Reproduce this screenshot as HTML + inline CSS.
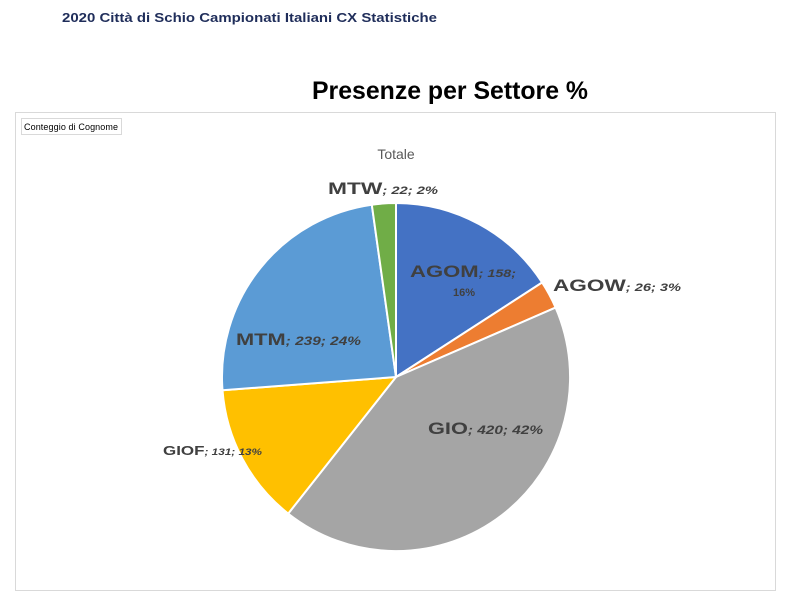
<!DOCTYPE html>
<html><head><meta charset="utf-8"><style>
body{margin:0;width:800px;height:610px;background:#fff;overflow:hidden;font-family:"Liberation Sans",sans-serif}
</style></head><body>
<svg width="800" height="610" xmlns="http://www.w3.org/2000/svg" font-family="Liberation Sans, sans-serif">
<text x="62" y="22" font-size="13" font-weight="bold" fill="#1f2d5a" textLength="375" lengthAdjust="spacingAndGlyphs">2020 Città di Schio Campionati Italiani CX Statistiche</text>
<text x="312" y="99" font-size="25" font-weight="bold" fill="#000" textLength="276" lengthAdjust="spacingAndGlyphs">Presenze per Settore  %</text>
<rect x="15.5" y="112.5" width="760" height="478" fill="#fff" stroke="#d9d9d9"/>
<rect x="21.5" y="118.5" width="100" height="16" fill="#fff" stroke="#d9d9d9"/>
<text x="24" y="130" font-size="9" fill="#000" textLength="94">Conteggio di Cognome</text>
<text x="396" y="159" font-size="14" fill="#595959" text-anchor="middle">Totale</text>
<g stroke="#fff" stroke-width="2" stroke-linejoin="round">
<path d="M396,377 L396,203 A174,174 0 0 1 542.1,282.5 Z" fill="#4472c4"/>
<path d="M396,377 L542.1,282.5 A174,174 0 0 1 555.6,307.6 Z" fill="#ed7d31"/>
<path d="M396,377 L555.6,307.6 A174,174 0 0 1 288.2,513.6 Z" fill="#a5a5a5"/>
<path d="M396,377 L288.2,513.6 A174,174 0 0 1 222.5,390.3 Z" fill="#ffc000"/>
<path d="M396,377 L222.5,390.3 A174,174 0 0 1 371.8,204.7 Z" fill="#5b9bd5"/>
<path d="M396,377 L371.8,204.7 A174,174 0 0 1 396,203 Z" fill="#70ad47"/>
</g>
<g font-weight="bold" fill="#404040">
<text x="410" y="277" font-size="17" textLength="106" lengthAdjust="spacingAndGlyphs">AGOM<tspan font-size="11" font-style="italic">; 158;</tspan></text>
<text x="464" y="296" font-size="11" text-anchor="middle">16%</text>
<text x="553" y="291" font-size="17" textLength="128" lengthAdjust="spacingAndGlyphs">AGOW<tspan font-size="11" font-style="italic">; 26; 3%</tspan></text>
<text x="428" y="434" font-size="17" textLength="115" lengthAdjust="spacingAndGlyphs">GIO<tspan font-size="12" font-style="italic">; 420; 42%</tspan></text>
<text x="163" y="455" font-size="13" textLength="99" lengthAdjust="spacingAndGlyphs">GIOF<tspan font-size="9" font-style="italic">; 131; 13%</tspan></text>
<text x="236" y="345" font-size="17" textLength="125" lengthAdjust="spacingAndGlyphs">MTM<tspan font-size="12" font-style="italic">; 239; 24%</tspan></text>
<text x="328" y="194" font-size="17" textLength="110" lengthAdjust="spacingAndGlyphs">MTW<tspan font-size="11" font-style="italic">; 22; 2%</tspan></text>
</g>
</svg>
</body></html>
